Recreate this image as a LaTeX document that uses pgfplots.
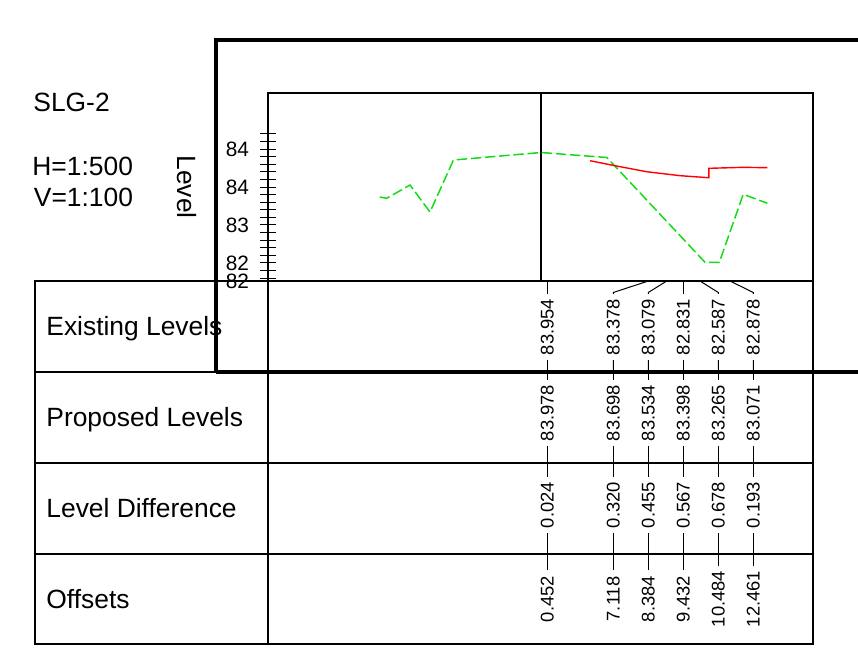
\documentclass[border=0pt]{standalone}
\usepackage{fontspec}
\setmainfont{Liberation Sans}
\usepackage{pgfplots}
\pgfplotsset{compat=1.18}
\definecolor{exgreen}{RGB}{20,220,20}
\definecolor{prred}{RGB}{255,0,0}
\newcommand\bigfont{\fontsize{13.2}{15}\selectfont}
\newcommand\valfont{\fontsize{9.2}{11}\selectfont}
\newcommand\tickfont{\fontsize{10.4}{12}\selectfont}

\begin{document}
\begin{tikzpicture}[x=0.5pt,y=-0.5pt]
\path[use as bounding box] (0,0) rectangle (858,653);

% table grid
\draw[line width=0.6pt] (35,281) rectangle (813,644);
\foreach \yy in {372,463,554} \draw[line width=0.6pt] (35,\yy) -- (813,\yy);
\draw[line width=0.6pt] (268,281) -- (268,644);

% long section (axis placed in absolute units: 1 px = 0.5pt)
\begin{axis}[
  at={(134pt,-140.5pt)}, anchor=south west,
  scale only axis, width=272.5pt, height=94pt,
  xmin=-16.89, xmax=17.73, ymin=82.263, ymax=84.737,
  axis line style={line width=0.6pt},
  xtick=\empty,
  ytick={82.3,82.4,82.5,82.6,82.7,82.8,82.9,83.0,83.1,83.2,83.3,83.4,83.5,83.6,83.7,83.8,83.9,84.0,84.1,84.2},
  yticklabels={},
  ytick pos=left, tick align=center, major tick length=8pt,
  every tick/.style={black, line width=0.5pt},
  extra y ticks={84,83.5,83,82.5,82.263},
  extra y tick labels={84,84,83,82,82},
  extra y tick style={major tick length=0pt,
    yticklabel style={font=\tickfont, inner sep=0pt, xshift=-9.3pt}},
]
\addplot[black, line width=0.55pt] coordinates {(0.452,82.263)(0.452,84.737)};
\addplot[exgreen, line width=0.75pt, dash pattern=on 5.2pt off 1.9pt] coordinates {
  (-9.79,83.368)(-9.35,83.351)(-7.87,83.526)(-6.60,83.171)(-5.11,83.855)
  (0.452,83.954)(4.64,83.888)(10.87,82.509)(11.78,82.509)(13.30,83.404)(14.83,83.286)};
\addplot[prred, line width=0.7pt] coordinates {
  (3.56,83.846)(5.26,83.776)(7.17,83.701)(9.28,83.649)(11.12,83.622)
  (11.12,83.746)(13.30,83.759)(14.83,83.754)};
\end{axis}

% row values
\foreach \lx/\ax/\ev/\pv/\dv/\ov in {
  547.3/547.3/83.954/83.978/0.024/0.452,
  613.3/648.3/83.378/83.698/0.320/7.118,
  648.3/666.7/83.079/83.534/0.455/8.384,
  683.3/683.3/82.831/83.398/0.567/9.432,
  718.3/700/82.587/83.265/0.678/10.484,
  753.3/730/82.878/83.071/0.193/12.461} {
  \draw[line width=0.5pt] (\ax,281) -- (\lx,292.5) -- (\lx,372);
  \draw[line width=0.5pt] (\lx,372) -- (\lx,463);
  \draw[line width=0.5pt] (\lx,463) -- (\lx,554);
  \draw[line width=0.5pt] (\lx,554) -- (\lx,570);
  \node[rotate=90, fill=white, inner xsep=2.6pt, inner ysep=0.3pt, font=\valfont] at (\lx,327) {\ev};
  \node[rotate=90, fill=white, inner xsep=2.6pt, inner ysep=0.3pt, font=\valfont] at (\lx,413) {\pv};
  \node[rotate=90, fill=white, inner xsep=2.6pt, inner ysep=0.3pt, font=\valfont] at (\lx,505) {\dv};
  \node[rotate=90, fill=white, inner xsep=2.6pt, inner ysep=0.3pt, font=\valfont] at (\lx,599) {\ov};
}

% row labels and titles
\node[anchor=base west, inner sep=0pt, font=\bigfont] at (46,335) {Existing Levels};
\node[anchor=base west, inner sep=0pt, font=\bigfont] at (46,426) {Proposed Levels};
\node[anchor=base west, inner sep=0pt, font=\bigfont] at (46,517) {Level Difference};
\node[anchor=base west, inner sep=0pt, font=\bigfont] at (46,608.5) {Offsets};
\node[anchor=base west, inner sep=0pt, font=\bigfont] at (33,111.7) {SLG-2};
\node[anchor=base west, inner sep=0pt, font=\bigfont] at (32,175) {H=1:500};
\node[anchor=base west, inner sep=0pt, font=\bigfont] at (33.5,206.7) {V=1:100};
\node[rotate=-90, inner sep=0pt, font=\bigfont] at (186.5,187) {Level};

% thick frame
\draw[line width=1.6pt] (216,372) -- (216,40) -- (880,40);
\draw[line width=1.6pt] (216,372) -- (880,372);
\end{tikzpicture}
\end{document}
